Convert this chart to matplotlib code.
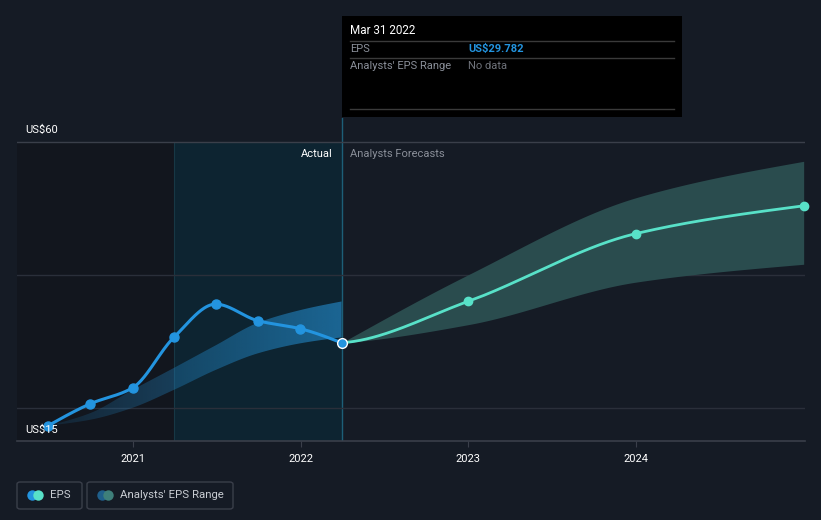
import numpy as np
import pandas as pd
import matplotlib
matplotlib.use("Agg")
import matplotlib.pyplot as plt
import matplotlib.dates as mdates
from matplotlib.patches import Rectangle, FancyBboxPatch, Polygon
from matplotlib.lines import Line2D

plt.rcParams['font.family'] = ['Roboto', 'DejaVu Sans']

# ---------------- data ----------------
eps_dates = ["2020-06-30", "2020-09-30", "2020-12-31", "2021-03-31",
             "2021-06-30", "2021-09-30", "2021-12-31", "2022-03-31"]
eps_values = [17.3, 20.6, 23.0, 30.6, 35.6, 33.1, 31.9, 29.782]

past_range_dates = ["2020-06-30", "2020-09-30", "2020-12-31", "2021-03-31",
                    "2021-06-30", "2021-09-30", "2021-12-31", "2022-03-31"]
past_range_low = [17.3, 18.2, 20.0, 22.7, 25.7, 28.2, 29.7, 30.6]
past_range_high = [17.3, 19.2, 22.7, 26.0, 29.4, 32.8, 34.7, 36.0]

fc_dates = ["2022-03-31", "2022-12-31", "2023-12-31", "2024-12-31"]
fc_values = [29.782, 36.0, 46.2, 50.4]
fc_low = [29.782, 32.5, 38.9, 41.6]
fc_high = [29.782, 40.0, 51.6, 57.1]

y_labels = ["US$15", "US$60"]
x_tick_years = ["2021", "2022", "2023", "2024"]

# ---------------- colours ----------------
BG = "#151b25"
DARK = "#12161e"
HILITE = "#0d2431"
BLUE = "#2394df"
MINT = "#58e1c8"
BAND_FC = "#2a4c4e"
GRID = "#2a2f3a"
AXLINE = "#3a3f4a"

W, H = 821, 520
fig = plt.figure(figsize=(W / 100, H / 100), dpi=100, facecolor=BG)


def fx(px):
    return px / W


def fy(py):
    return 1 - py / H


# axes: left 17 px, right 805 px, top 118 px, bottom 441 px
ax = fig.add_axes([fx(17), fy(441), fx(805) - fx(17), fy(118) - fy(441)])
ax.set_facecolor(BG)
for s in ax.spines.values():
    s.set_visible(False)

ppu = 6.644  # pixels per US$
ymin = 15
ymax = 15 + (441 - 118) / ppu

d2021 = mdates.date2num(pd.Timestamp("2021-01-01"))
d2024 = mdates.date2num(pd.Timestamp("2024-01-01"))
ppd = (636 - 133) / (d2024 - d2021)
x0, x1 = d2021 - (133 - 17) / ppd, d2024 + (805 - 636) / ppd


def tonum(ds):
    return np.array([mdates.date2num(pd.Timestamp(d)) for d in ds])


def pchip(x, y, n=300, start_slope=None):
    x = np.asarray(x, float)
    y = np.asarray(y, float)
    h = np.diff(x)
    delta = np.diff(y) / h
    m = np.zeros_like(y)
    for k in range(1, len(x) - 1):
        if delta[k - 1] * delta[k] <= 0:
            m[k] = 0
        else:
            w1 = 2 * h[k] + h[k - 1]
            w2 = h[k] + 2 * h[k - 1]
            m[k] = (w1 + w2) / (w1 / delta[k - 1] + w2 / delta[k])
    m[0] = (3 * delta[0] - m[1]) / 2 if len(x) > 2 else delta[0]
    m[-1] = (3 * delta[-1] - m[-2]) / 2 if len(x) > 2 else delta[-1]
    if start_slope is not None:
        m[0] = start_slope * delta[0]
    xs = np.linspace(x[0], x[-1], n)
    idx = np.clip(np.searchsorted(x, xs) - 1, 0, len(x) - 2)
    t = (xs - x[idx]) / h[idx]
    h00 = 2 * t**3 - 3 * t**2 + 1
    h10 = t**3 - 2 * t**2 + t
    h01 = -2 * t**3 + 3 * t**2
    h11 = t**3 - t**2
    ys = h00 * y[idx] + h10 * h[idx] * m[idx] + h01 * y[idx + 1] + h11 * h[idx] * m[idx + 1]
    return xs, ys


xe = tonum(eps_dates)
xpr = tonum(past_range_dates)
xf = tonum(fc_dates)
x_now = xe[-1]
x_hl = xe[3]

# background regions
ax.fill_between([x0, x_hl], 15, 60, color=DARK, zorder=0, lw=0)
ax.fill_between([x_hl, x_now], 15, 60, color=HILITE, zorder=0, lw=0)
ax.axvline(x_hl, ymin=0, ymax=(60 - ymin) / (ymax - ymin), color="#173845", lw=0.8, zorder=1)
ax.axvline(x_now, color="#1d5f78", lw=1.0, zorder=1)

# grid
for g in [20, 40, 60]:
    ax.axhline(g, color=GRID if g != 60 else AXLINE, lw=1, zorder=1)

# past analysts range (gradient blue)
sx, sl = pchip(xpr, past_range_low)
_, sh = pchip(xpr, past_range_high)
verts = np.vstack([np.column_stack([sx, sh]), np.column_stack([sx[::-1], sl[::-1]])])
poly = Polygon(verts, closed=True, facecolor="none", edgecolor="none", transform=ax.transData)
ax.add_patch(poly)
grad = np.zeros((2, 256, 4))
rgb = matplotlib.colors.to_rgb("#2389c9")
grad[..., 0], grad[..., 1], grad[..., 2] = rgb
grad[..., 3] = np.linspace(0.12, 0.65, 256)[None, :]
im = ax.imshow(grad, extent=[sx[0], sx[-1], 15, 40], aspect="auto", zorder=2,
               interpolation="bilinear")
im.set_clip_path(poly)

# forecast range
fx_s, fl_s = pchip(xf, fc_low, start_slope=0.5)
_, fh_s = pchip(xf, fc_high)
ax.fill_between(fx_s, fl_s, fh_s, color=BAND_FC, lw=0, zorder=2)

# forecast line
_, fv_s = pchip(xf, fc_values, start_slope=0.2)
ax.plot(fx_s, fv_s, color=MINT, lw=2.0, zorder=3, solid_capstyle="round")
ax.plot(xf[1:], fc_values[1:], "o", color=MINT, ms=6, zorder=4, clip_on=False)

# EPS line
ex_s, ev_s = pchip(xe, eps_values)
ax.plot(ex_s, ev_s, color=BLUE, lw=2.2, zorder=5, solid_capstyle="round")
ax.plot(xe[:-1], eps_values[:-1], "o", color=BLUE, ms=6.5, zorder=6, clip_on=False)
ax.plot(xe[-1:], eps_values[-1:], "o", color=BLUE, ms=7, mec="white", mew=1.0, zorder=7)

ax.set_xlim(x0, x1)
ax.set_ylim(ymin, ymax)

# x ticks
ax.set_yticks([])
ticks = [mdates.date2num(pd.Timestamp(f"{y}-01-01")) for y in x_tick_years]
ax.set_xticks(ticks)
ax.set_xticklabels(x_tick_years, color="white", fontsize=8)
ax.tick_params(axis="x", length=4, color=AXLINE, pad=5)
ax.axhline(ymin, color=AXLINE, lw=1.2, zorder=8, clip_on=False)

# y labels
fig.text(fx(25), fy(130), y_labels[1], color="white", fontsize=8, va="center", ha="left")
fig.text(fx(25), fy(430), y_labels[0], color="white", fontsize=8, va="center", ha="left", zorder=10)

# Actual / forecast labels
fig.text(fx(333), fy(154), "Actual", color="white", fontsize=8, va="center", ha="right")
fig.text(fx(350), fy(154), "Analysts Forecasts", color="#8a8f99", fontsize=8, va="center", ha="left")

# tooltip
fig.patches.append(Rectangle((fx(342), fy(117)), fx(682) - fx(342), fy(16) - fy(117),
                             transform=fig.transFigure, facecolor="black", edgecolor="none", zorder=20))
for ly in [41, 58, 109]:
    fig.lines.append(Line2D([fx(350), fx(674)], [fy(ly), fy(ly)], transform=fig.transFigure,
                            color="#3a3a3a", lw=1, zorder=21))
fig.text(fx(350), fy(31), "Mar 31 2022", color="white", fontsize=8.4, va="center", ha="left", zorder=22)
fig.text(fx(350), fy(49), "EPS", color="#8a8f99", fontsize=8, va="center", ha="left", zorder=22)
fig.text(fx(468), fy(49), "US$29.782", color=BLUE, fontsize=8, va="center", ha="left",
         fontweight="bold", zorder=22)
fig.text(fx(350), fy(66), "Analysts' EPS Range", color="#8a8f99", fontsize=8, va="center", ha="left", zorder=22)
fig.text(fx(468), fy(66), "No data", color="#6f737b", fontsize=8, va="center", ha="left", zorder=22)


# legend
def legend_box(x0p, x1p, c1, c2, label):
    fig.patches.append(FancyBboxPatch((fx(x0p), fy(509)), fx(x1p) - fx(x0p), fy(482) - fy(509),
                                      boxstyle="round,pad=0,rounding_size=0.004",
                                      transform=fig.transFigure, facecolor="none",
                                      edgecolor=AXLINE, lw=1, zorder=20))
    for cx, col in [(x0p + 15, c1), (x0p + 21, c2)]:
        fig.lines.append(Line2D([fx(cx)], [fy(495)], transform=fig.transFigure, marker="o",
                                ms=7.5, color=col, mew=0, zorder=21))
    fig.text(fx(x0p + 33), fy(495), label, color="#c8ccd2", fontsize=8.2, va="center", ha="left", zorder=22)


legend_box(17, 82, BLUE, MINT, "EPS")
legend_box(87, 233, "#1f5f8b", "#3e7f7a", "Analysts' EPS Range")

fig.savefig("out.png", dpi=100, facecolor=BG)
